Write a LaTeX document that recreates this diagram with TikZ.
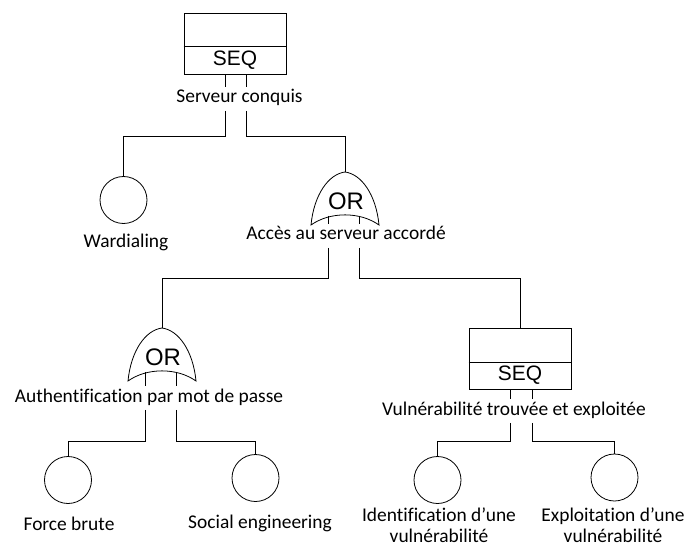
\documentclass[tikz,border=0pt]{standalone}
\usepackage{fontspec}
\newfontfamily\calibri[Ligatures=NoCommon]{Carlito}
\newfontfamily\arial{Liberation Sans}

\tikzset{
  seqbox/.style={draw, minimum width=102bp, minimum height=61bp, inner sep=0},
  event/.style={draw, circle, minimum size=47bp, inner sep=0},
  lbl/.style={font=\calibri\fontsize{19.5}{21}\selectfont, inner xsep=0, inner ysep=2.5bp, text height=13bp, text depth=5bp},
  lbltwo/.style={font=\calibri\fontsize{19.5}{21}\selectfont, inner sep=0, align=center},
  gatetxt/.style={font=\arial\fontsize{21}{24}\selectfont, inner sep=0},
  ortxt/.style={font=\arial\fontsize{24}{26}\selectfont, inner sep=0},
  orgate/.pic={
    \draw (-34,53) .. controls (-31,22) and (-16,2) .. (0,0) .. controls (16,2) and (31,22) .. (34,53) .. controls (15,39.5) and (-15,39.5) .. cycle;
    \coordinate (-top) at (0,0);
    \coordinate (-l) at (-17,44);
    \coordinate (-r) at (14,44);
  }
}

\begin{document}
\begin{tikzpicture}[x=1bp, y=-1bp, line width=0.8bp]
\useasboundingbox (0,0) rectangle (696,550);

\def\ya{136}
\def\yb{278}
\def\yc{441}

% gates
\node[seqbox] (g1) at (235,43.5) {};
\draw ([yshift=-2.5bp]g1.west) -- ([yshift=-2.5bp]g1.east);
\node[gatetxt] (t1) at (235,60) {SEQ};
\coordinate (g1l) at ([xshift=-10bp]g1.south);
\coordinate (g1r) at ([xshift=11bp]g1.south);

\pic (o1) at (345,172) {orgate};
\node[ortxt] (t2) at (346,201) {OR};

\pic (o2) at (162,328) {orgate};
\node[ortxt] (t3) at (163,357) {OR};

\node[seqbox] (g4) at (520,359) {};
\draw ([yshift=-3bp]g4.west) -- ([yshift=-3bp]g4.east);
\node[gatetxt] (t4) at (520,375) {SEQ};
\coordinate (g4l) at ([xshift=-10bp]g4.south);
\coordinate (g4r) at ([xshift=12bp]g4.south);

% basic events
\node[event] (e1) at (123.5,200) {};
\node[event] (e2) at (68,480) {};
\node[event] (e3) at (255.5,478) {};
\node[event] (e4) at (437.5,480) {};
\node[event] (e5) at (614.5,477.5) {};

% labels
\node[lbl] (l1) at (239.5,99) {Serveur conquis};
\node[lbl] (l2) at (126,244) {Wardialing};
\node[lbl] (l3) at (346,236) {Accès au serveur accordé};
\node[lbl] (l4) at (149,398) {Authentification par mot de passe};
\node[lbl] (l5) at (514,411) {Vulnérabilité trouvée et exploitée};
\node[lbl] (l6) at (69,526) {Force brute};
\node[lbl] (l7) at (260,524) {Social engineering};
\node[lbltwo] (l8) at (439,525) {Identification d’une\\vulnérabilité};
\node[lbltwo] (l9) at (613,525) {Exploitation d’une\\vulnérabilité};

% connectors
\draw (g1l) -- (g1l |- l1.north);
\draw (g1r) -- (g1r |- l1.north);
\draw (g1l |- l1.south) -- (g1l |- 0,\ya) -| (e1.north);
\draw (g1r |- l1.south) -- (g1r |- 0,\ya) -| (o1-top);

\draw (o1-l) -- (o1-l |- l3.north);
\draw (o1-r) -- (o1-r |- l3.north);
\draw (o1-l |- l3.south) -- (o1-l |- 0,\yb) -| (o2-top);
\draw (o1-r |- l3.south) -- (o1-r |- 0,\yb) -| (g4.north);

\draw (o2-l) -- (o2-l |- l4.north);
\draw (o2-r) -- (o2-r |- l4.north);
\draw (o2-l |- l4.south) -- (o2-l |- 0,\yc) -| (e2.north);
\draw (o2-r |- l4.south) -- (o2-r |- 0,\yc) -| (e3.north);

\draw (g4l) -- (g4l |- l5.north);
\draw (g4r) -- (g4r |- l5.north);
\draw (g4l |- l5.south) -- (g4l |- 0,\yc) -| (e4.north);
\draw (g4r |- l5.south) -- (g4r |- 0,\yc) -| (e5.north);

\end{tikzpicture}
\end{document}
